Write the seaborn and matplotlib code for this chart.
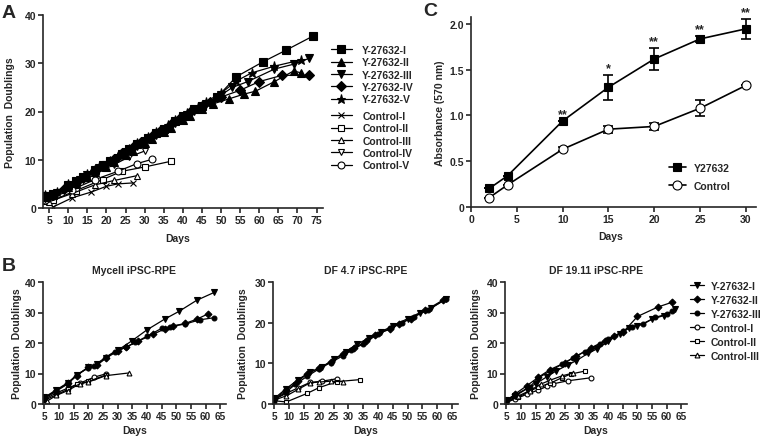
import matplotlib
matplotlib.use("Agg")
import matplotlib.pyplot as plt
import seaborn as sns

# ---- Panel A: population doublings ----
A_Y1_DAYS = [4, 6, 10, 12, 14, 17, 19, 21, 24, 26, 28, 31, 33, 35, 38, 40, 43, 45, 49, 54, 61, 67, 74]
A_Y1_PD = [2.4, 2.8, 4.8, 5.6, 6.4, 7.9, 8.9, 9.7, 11.2, 12.2, 13.2, 14.6, 15.6, 16.4, 18.0, 19.0, 20.5, 21.2, 23.0, 27.2, 30.3, 32.7, 35.6]
A_Y2_DAYS = [4, 6, 10, 12, 15, 17, 20, 22, 25, 27, 30, 32, 35, 37, 40, 42, 45, 48, 52, 56, 59, 64, 69, 71]
A_Y2_PD = [2.2, 2.6, 4.4, 5.2, 6.4, 7.4, 8.6, 9.6, 11.0, 11.8, 13.4, 14.2, 15.8, 16.6, 18.2, 19.0, 20.6, 21.6, 22.6, 23.6, 24.2, 26.2, 28.4, 28.0]
A_Y3_DAYS = [5, 7, 10, 13, 15, 18, 20, 23, 25, 28, 30, 33, 35, 38, 41, 43, 46, 50, 53, 57, 64, 69, 73]
A_Y3_PD = [2.5, 3.2, 4.6, 5.9, 6.8, 8.2, 9.0, 10.4, 11.6, 12.9, 13.8, 15.2, 16.2, 17.6, 19.2, 20.2, 21.6, 23.4, 25.0, 26.2, 28.8, 29.8, 31.0]
A_Y4_DAYS = [4, 6, 9, 12, 14, 17, 19, 22, 24, 27, 29, 32, 34, 37, 39, 42, 45, 47, 50, 55, 60, 66, 73]
A_Y4_PD = [2.2, 2.7, 4.0, 5.4, 6.3, 7.8, 8.8, 10.2, 11.4, 12.7, 13.7, 15.0, 16.0, 17.4, 18.4, 19.8, 21.2, 22.0, 23.0, 24.4, 26.2, 27.5, 27.5]
A_Y5_DAYS = [4, 7, 10, 13, 15, 18, 21, 23, 26, 28, 31, 33, 36, 38, 41, 44, 46, 50, 54, 58, 64, 71]
A_Y5_PD = [2.6, 3.4, 5.0, 6.2, 7.0, 8.6, 9.8, 10.8, 12.3, 13.4, 14.8, 15.8, 17.2, 18.2, 19.6, 21.0, 22.0, 23.8, 26.3, 28.0, 29.4, 30.7]
A_C1_DAYS = [6, 11, 16, 20, 23, 27]
A_C1_PD = [0.2, 2.1, 3.3, 4.5, 5.0, 5.2]
A_C2_DAYS = [4, 6, 12, 19, 24, 30, 37]
A_C2_PD = [1.5, 1.6, 3.6, 5.9, 7.6, 8.5, 9.7]
A_C3_DAYS = [5, 11, 17, 22, 28]
A_C3_PD = [1.3, 3.0, 4.8, 5.7, 6.7]
A_C4_DAYS = [5, 11, 17, 22, 26, 30]
A_C4_PD = [1.8, 4.3, 7.0, 9.0, 10.6, 11.8]
A_C5_DAYS = [4, 11, 17, 23, 28, 32]
A_C5_PD = [1.6, 3.8, 5.9, 7.6, 9.2, 10.1]
A_LABELS_Y = ["Y-27632-I", "Y-27632-II", "Y-27632-III", "Y-27632-IV", "Y-27632-V"]
A_LABELS_C = ["Control-I", "Control-II", "Control-III", "Control-IV", "Control-V"]

# ---- Panel B: three iPSC-RPE lines ----
B_TITLES = ["Mycell iPSC-RPE", "DF 4.7 iPSC-RPE", "DF 19.11 iPSC-RPE"]
B_YMAX = [40, 30, 40]
B1_Y1 = ([5, 9, 13, 16, 20, 23, 26, 30, 35, 40, 46, 51, 57, 63],
         [2.2, 4.6, 7.0, 9.5, 12.0, 13.0, 15.2, 17.6, 20.8, 24.3, 27.8, 30.4, 34.0, 36.6])
B1_Y2 = ([5, 9, 13, 16, 20, 23, 26, 30, 33, 37, 42, 46, 49, 53, 57, 61],
         [2.0, 4.4, 6.8, 9.2, 12.2, 12.8, 15.0, 17.4, 18.8, 20.6, 22.8, 24.6, 25.6, 26.4, 27.8, 29.6])
B1_Y3 = ([5, 9, 13, 16, 20, 22, 26, 29, 33, 36, 40, 45, 48, 53, 58, 63],
         [1.8, 4.2, 6.6, 9.6, 11.8, 12.6, 15.4, 17.2, 18.6, 20.2, 22.2, 24.8, 25.4, 26.2, 27.6, 28.3])
B1_C1 = ([5, 9, 13, 17, 22, 26], [1.5, 3.6, 5.2, 6.8, 8.8, 9.9])
B1_C2 = ([5, 9, 13, 16, 20, 26], [1.2, 3.0, 4.8, 6.4, 7.4, 9.5])
B1_C3 = ([6, 9, 13, 17, 20, 26, 34], [1.0, 2.8, 4.4, 6.6, 7.2, 9.3, 10.2])
B2_Y1 = ([5, 9, 13, 17, 21, 25, 29, 33, 37, 41, 45, 50, 54, 58, 63],
         [1.4, 3.8, 6.0, 7.9, 9.0, 11.0, 12.8, 14.8, 16.2, 17.8, 19.2, 21.0, 22.4, 23.6, 25.9])
B2_Y2 = ([5, 9, 13, 16, 20, 24, 28, 32, 36, 39, 44, 47, 51, 56, 62],
         [1.2, 3.4, 5.6, 7.4, 8.8, 10.4, 12.2, 13.8, 15.4, 17.0, 18.4, 19.6, 21.0, 23.0, 25.6])
B2_Y3 = ([5, 9, 12, 16, 20, 24, 28, 31, 35, 40, 44, 48, 52, 57, 63],
         [1.0, 3.0, 4.8, 6.8, 8.6, 10.2, 11.8, 13.2, 14.8, 17.2, 18.6, 20.0, 21.4, 23.2, 25.8])
B2_C1 = ([5, 9, 13, 17, 21, 26], [1.2, 2.6, 4.0, 5.3, 5.6, 6.2])
B2_C2 = ([5, 9, 16, 20, 26, 34], [0.8, 0.5, 2.6, 4.0, 5.5, 6.0])
B2_C3 = ([5, 9, 13, 17, 20, 24, 28], [1.0, 2.0, 3.6, 5.2, 5.4, 5.6, 5.5])
B3_Y1 = ([5, 8, 12, 15, 19, 22, 26, 29, 33, 36, 40, 44, 47, 50, 55, 59, 63],
         [1.2, 2.6, 5.0, 6.6, 9.0, 10.8, 12.8, 14.2, 16.6, 18.0, 20.6, 23.0, 24.8, 25.5, 27.8, 29.0, 31.0])
B3_Y2 = ([5, 8, 12, 16, 20, 25, 29, 34, 39, 42, 45, 50, 57, 62],
         [1.1, 3.3, 6.0, 8.8, 11.3, 13.5, 15.7, 18.4, 20.8, 22.2, 23.5, 28.7, 31.8, 33.4])
B3_Y3 = ([5, 8, 13, 16, 20, 24, 28, 32, 37, 40, 45, 48, 52, 56, 60, 62],
         [1.3, 3.0, 5.6, 8.6, 10.8, 13.0, 15.2, 17.2, 19.6, 21.4, 23.8, 25.4, 26.2, 28.4, 29.4, 30.4])
B3_C1 = ([5, 8, 12, 16, 19, 21, 26, 34], [0.6, 1.6, 3.2, 4.6, 5.8, 6.6, 7.6, 8.6])
B3_C2 = ([5, 9, 13, 16, 20, 24, 27, 32], [0.8, 2.2, 4.2, 5.6, 6.8, 8.6, 9.8, 10.8])
B3_C3 = ([5, 9, 13, 17, 20, 24, 28], [1.0, 2.6, 4.4, 6.6, 7.8, 9.2, 10.2])
B_LABELS = ["Y-27632-I", "Y-27632-II", "Y-27632-III", "Control-I", "Control-II", "Control-III"]

# ---- Panel C: absorbance ----
C_DAYS = [2, 4, 10, 15, 20, 25, 30]
C_Y27632 = [0.20, 0.34, 0.94, 1.31, 1.62, 1.84, 1.95]
C_Y27632_ERR = [0.0, 0.0, 0.0, 0.135, 0.12, 0.03, 0.11]
C_CONTROL = [0.10, 0.24, 0.63, 0.85, 0.88, 1.08, 1.33]
C_CONTROL_ERR = [0.0, 0.0, 0.02, 0.04, 0.04, 0.085, 0.0]
C_SIG = ["", "", "**", "*", "**", "**", "**"]

W, H = 771, 439
FS = 7.5


def px_rect(left, top, right, bottom):
    return [left / W, 1 - bottom / H, (right - left) / W, (bottom - top) / H]


def style_axis(ax, fs=FS):
    sns.despine(ax=ax)
    for s in ["left", "bottom"]:
        ax.spines[s].set_linewidth(1.2)
    ax.tick_params(direction="out", length=3.5, width=1.2, labelsize=fs, pad=1.5)


def draw(ax, x, y, marker, ms, filled=True, lw=0.9):
    sns.lineplot(x=x, y=y, ax=ax, color="black", marker=marker, markersize=ms,
                 markerfacecolor="black" if filled else "white", markeredgecolor="black",
                 markeredgewidth=0.8, linewidth=lw, sort=False, errorbar=None, legend=False)
    return ax.lines[-1]


def add_legend(ax, handles, labels, x, y, **kw):
    return ax.legend(handles, labels, loc="upper left", bbox_to_anchor=(x / W, 1 - y / H),
                     bbox_transform=fig.transFigure, frameon=False, fontsize=FS, borderpad=0,
                     borderaxespad=0, **kw)


sns.set_style("ticks")
plt.rcParams["font.family"] = ["Liberation Sans", "DejaVu Sans"]
plt.rcParams["font.weight"] = "bold"
plt.rcParams["axes.labelweight"] = "bold"

fig = plt.figure(figsize=(W / 100, H / 100), dpi=100)

# ---------------- Panel A ----------------
axA = fig.add_axes(px_rect(43, 16, 323, 209))
ctrl = []
for (x, y, m, ms) in [(A_C1_DAYS, A_C1_PD, "x", 4), (A_C2_DAYS, A_C2_PD, "s", 5),
                      (A_C3_DAYS, A_C3_PD, "^", 5), (A_C4_DAYS, A_C4_PD, "v", 5),
                      (A_C5_DAYS, A_C5_PD, "o", 5)]:
    ctrl.append(draw(axA, x, y, m, ms, filled=False))
ytr = []
for (x, y, m, ms) in [(A_Y1_DAYS, A_Y1_PD, "s", 5.5), (A_Y2_DAYS, A_Y2_PD, "^", 6),
                      (A_Y3_DAYS, A_Y3_PD, "v", 6), (A_Y4_DAYS, A_Y4_PD, "D", 5),
                      (A_Y5_DAYS, A_Y5_PD, "*", 6.5)]:
    ytr.append(draw(axA, x, y, m, ms))
axA.set_xlim(3.4, 76.7)
axA.set_ylim(0, 40)
axA.set_xticks(range(5, 80, 5))
axA.set_yticks([0, 10, 20, 30, 40])
style_axis(axA)
axA.set_xlabel("Days", fontsize=FS)
axA.set_ylabel("Population  Doublings", fontsize=FS)
axA.xaxis.set_label_coords(0.48, -0.13)
axA.yaxis.set_label_coords(-0.1, 0.5)
legY = add_legend(axA, ytr, A_LABELS_Y, 331, 46, handlelength=2.0, handletextpad=1.0,
                  labelspacing=0.22)
axA.add_artist(legY)
add_legend(axA, ctrl, A_LABELS_C, 331, 112, handlelength=2.0, handletextpad=1.0,
           labelspacing=0.22)

# ---------------- Panel C ----------------
axC = fig.add_axes(px_rect(471, 18, 756, 207.7))
axC.errorbar(C_DAYS, C_Y27632, yerr=C_Y27632_ERR, fmt="none", ecolor="black",
             elinewidth=1.2, capsize=3.5, capthick=1.2)
axC.errorbar(C_DAYS, C_CONTROL, yerr=C_CONTROL_ERR, fmt="none", ecolor="black",
             elinewidth=1.2, capsize=3.5, capthick=1.2)
hy = draw(axC, C_DAYS, C_Y27632, "s", 6, lw=1.2)
hc = draw(axC, C_DAYS, C_CONTROL, "o", 6.5, filled=False, lw=1.2)
for d, v, e, s in zip(C_DAYS, C_Y27632, C_Y27632_ERR, C_SIG):
    if s:
        axC.text(d, v + e + 0.01, s, ha="center", va="bottom", fontsize=9)
axC.set_xlim(0, 31.1)
axC.set_ylim(0, 2.08)
axC.set_xticks(range(0, 35, 5))
axC.set_yticks([0, 0.5, 1.0, 1.5, 2.0])
axC.set_yticklabels(["0", "0.5", "1.0", "1.5", "2.0"])
style_axis(axC)
axC.set_xlabel("Days", fontsize=FS)
axC.set_ylabel("Absorbance (570 nm)", fontsize=FS)
axC.xaxis.set_label_coords(0.49, -0.13)
axC.yaxis.set_label_coords(-0.091, 0.5)
add_legend(axC, [hy, hc], ["Y27632", "Control"], 669, 164, handlelength=1.6,
           handletextpad=0.8, labelspacing=0.75)

# ---------------- Panel B ----------------
b_series = [
    [B1_Y1, B1_Y2, B1_Y3, B1_C1, B1_C2, B1_C3],
    [B2_Y1, B2_Y2, B2_Y3, B2_C1, B2_C2, B2_C3],
    [B3_Y1, B3_Y2, B3_Y3, B3_C1, B3_C2, B3_C3],
]
b_styles = [("v", 4, True), ("D", 3.5, True), ("o", 3.5, True),
            ("o", 3.5, False), ("s", 3.5, False), ("^", 3.5, False)]
b_lefts = [(43, 226), (273, 458), (505, 687)]
b_ylab_x = [-0.115, -0.135, -0.132]
for i, (l, r) in enumerate(b_lefts):
    ax = fig.add_axes(px_rect(l, 283, r, 405))
    hmap = {}
    for k in [3, 4, 5, 0, 1, 2]:
        (x, y) = b_series[i][k]
        m, ms, filled = b_styles[k]
        hmap[k] = draw(ax, x, y, m, ms, filled=filled)
    handles = [hmap[k] for k in range(6)]
    ax.set_xlim(4.5, 67)
    ax.set_ylim(0, B_YMAX[i])
    ax.set_xticks(range(5, 70, 5))
    ax.set_yticks(range(0, B_YMAX[i] + 1, 10))
    style_axis(ax)
    ax.tick_params(axis="x", labelsize=7.2)
    ax.set_xlabel("Days", fontsize=FS)
    ax.set_ylabel("Population  Doublings", fontsize=FS)
    ax.xaxis.set_label_coords(0.5, -0.17)
    ax.yaxis.set_label_coords(b_ylab_x[i], 0.5)
    ax.text(0.5, 1.1, B_TITLES[i], transform=ax.transAxes, ha="center", va="center", fontsize=FS)
    if i == 2:
        add_legend(ax, handles, B_LABELS, 690, 282, handlelength=1.3, handletextpad=0.7,
                   labelspacing=0.38)

# panel letters
for letter, x, y in [("A", 2, 5), ("B", 2, 258), ("C", 423, 3)]:
    fig.text(x / W, 1 - y / H, letter, ha="left", va="top", fontsize=14, fontweight="bold")

fig.savefig("out.png", dpi=100)
